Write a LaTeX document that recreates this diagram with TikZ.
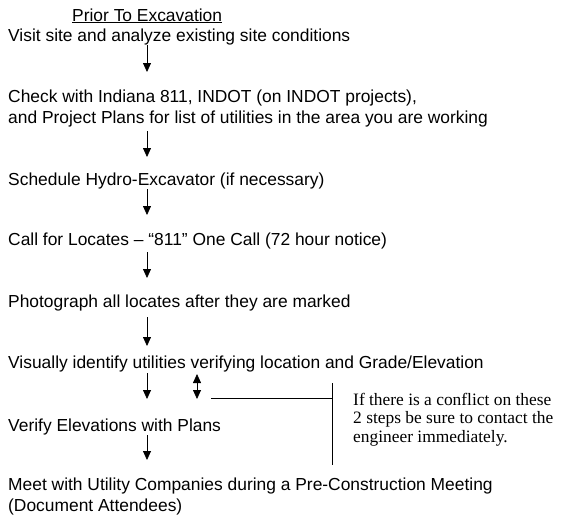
\documentclass[tikz,border=0pt]{standalone}
\usepackage{fontspec}
\setmainfont{Liberation Sans}
\newfontfamily\notefont{Liberation Serif}
\usetikzlibrary{arrows.meta}

\tikzset{
  steptext/.style={anchor=base west, inner sep=0pt, align=left,
    font=\fontsize{17.4}{21}\selectfont},
  notetext/.style={anchor=base west, inner sep=0pt, align=left,
    font=\notefont\fontsize{17.4}{18.5}\selectfont},
  flow/.style={-{Triangle[width=8pt,length=9pt]}, line width=0.8pt},
  twoway/.style={{Triangle[width=8pt,length=9pt]}-{Triangle[width=8pt,length=9pt]}, line width=0.8pt},
  bar/.style={line width=0.8pt}
}

\begin{document}
\begin{tikzpicture}[x=1pt, y=-1pt]
        \useasboundingbox (0,0) rectangle (564,515);
        \coordinate (spine) at (147,0);
        \coordinate (side) at (197,0);

        % base of a two-line node is its last line
        \node[steptext] (prior) at (72,21) {\underline{Prior To Excavation}};
        \node[steptext] (visit) at (8,41) {Visit site and analyze existing site conditions};
        \node[steptext] (check) at (8,123) {Check with Indiana 811, INDOT (on INDOT projects),\\
          and Project Plans for list of utilities in the area you are working};
        \node[steptext] (hydro) at (8,185) {Schedule Hydro-Excavator (if necessary)};
        \node[steptext] (locates) at (8,245) {Call for Locates – “811” One Call (72 hour notice)};
        \node[steptext] (photo) at (8,307) {Photograph all locates after they are marked};
        \node[steptext] (visual) at (8,368) {Visually identify utilities verifying location and Grade/Elevation};
        \node[steptext] (verify) at (8,431) {Verify Elevations with Plans};
        \node[steptext] (meet) at (8,511) {Meet with Utility Companies during a Pre-Construction Meeting\\
          (Document Attendees)};
        \node[notetext] (note) at (353,442) {If there is a conflict on these\\
          2 steps be sure to contact the\\
          engineer immediately.};

        % down the list
        \draw[flow] ([yshift=-4pt]visit.base -| spine) -- ++(0,27);
        \draw[flow] ([yshift=-8pt]check.base -| spine) -- ++(0,26);
        \draw[flow] ([yshift=-4pt]hydro.base -| spine) -- ++(0,26);
        \draw[flow] ([yshift=-7pt]locates.base -| spine) -- ++(0,26);
        \draw[flow] ([yshift=-10pt]photo.base -| spine) -- ++(0,29);
        \draw[flow] ([yshift=-5pt]visual.base -| spine) -- ++(0,26);
        \draw[flow] ([yshift=-4pt]verify.base -| spine) -- ++(0,25);

        % the two steps in question
        \draw[twoway] ([yshift=-6pt]visual.base -| side) -- ++(0,25);
        \coordinate (tick) at (211,398);
        \coordinate (bartop) at (332,383);
        \coordinate (barbottom) at (332,465);
        \draw[bar] (tick) -- (tick -| bartop);
        \draw[bar] (bartop) -- (barbottom);
      \end{tikzpicture}
\end{document}
